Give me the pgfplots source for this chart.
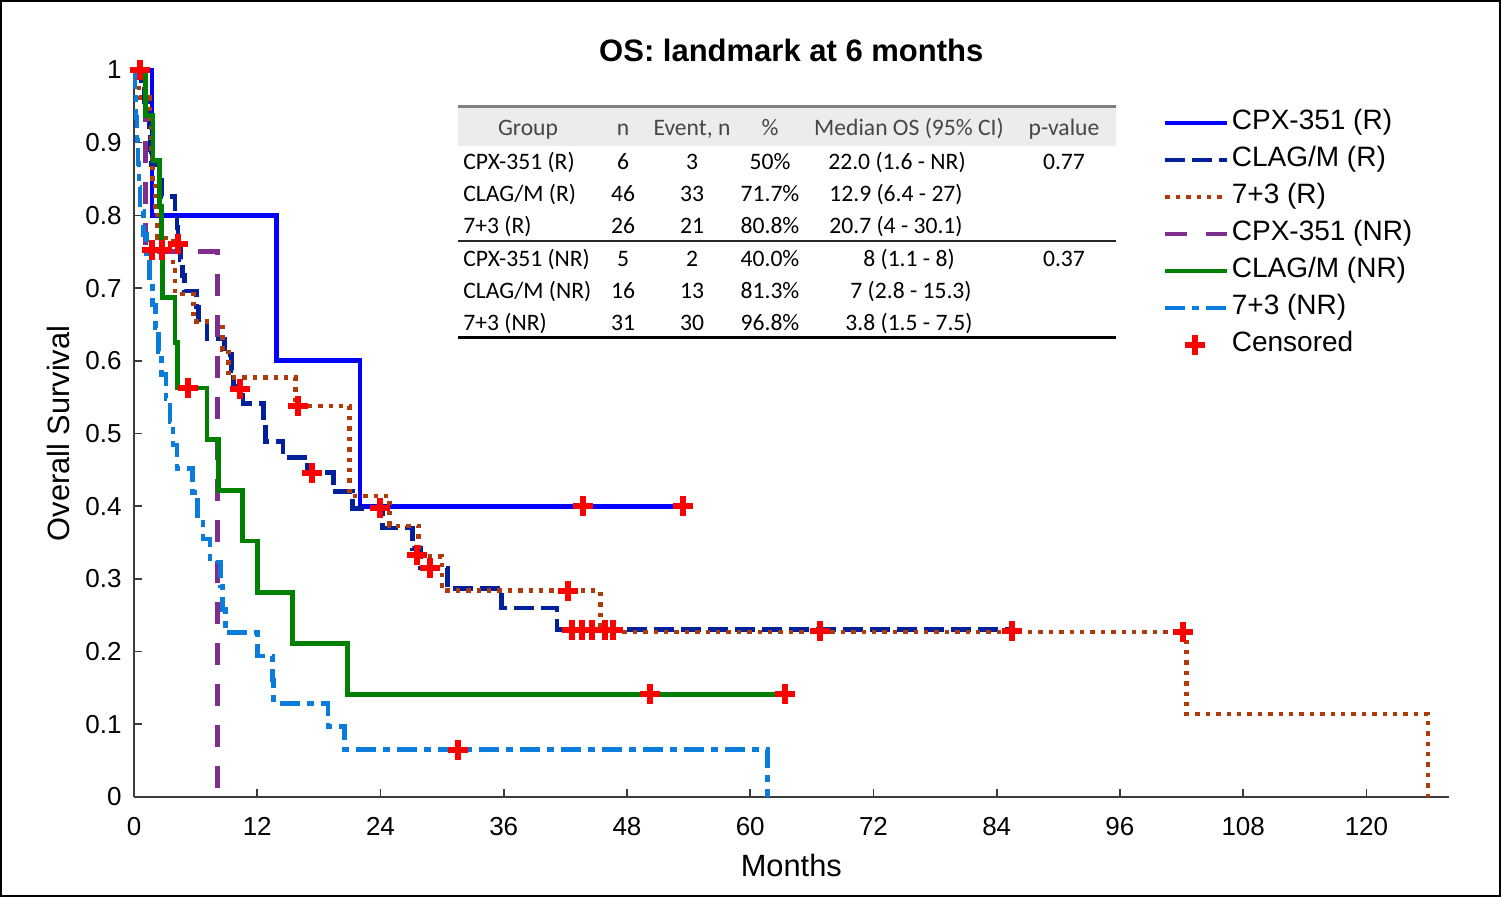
\documentclass[border=0pt]{standalone}
\usepackage{fontspec}
\setmainfont{Liberation Sans}
\newfontfamily\tablefont{Carlito}
\usepackage{pgfplots}
\pgfplotsset{compat=1.18}

\definecolor{cR}{RGB}{0,0,255}
\definecolor{clagR}{RGB}{0,32,156}
\definecolor{sevR}{RGB}{176,58,8}
\definecolor{cNR}{RGB}{126,47,142}
\definecolor{clagNR}{RGB}{0,128,0}
\definecolor{sevNR}{RGB}{10,125,220}
\definecolor{axisgray}{RGB}{60,60,60}
\definecolor{hdrbg}{RGB}{236,236,236}
\definecolor{hdrtxt}{RGB}{70,70,70}

\pgfplotsset{censorlegend/.style={legend image code/.code={\draw[mark repeat=2,mark phase=2,##1] plot coordinates {(0pt,0pt) (15pt,0pt) (30pt,0pt)};}}}

\begin{document}
\begin{tikzpicture}
\path[use as bounding box] (0,0) rectangle (750.5pt,-448.5pt);
\fill[white] (0,0) rectangle (750.5pt,-448.5pt);
\draw[black, line width=1pt] (0.5pt,-0.5pt) rectangle (750pt,-448pt);

\begin{scope}[x=0.5pt,y=-0.5pt]
\fill[hdrbg] (458,108) rectangle (1116,146);
\draw[line width=1.5pt, gray] (458,107) -- (1116,107);
\draw[line width=1pt, black!85] (458,241) -- (1116,241);
\draw[line width=1.5pt, black] (458,338) -- (1116,338);
\tikzset{tb/.style={font=\tablefont\fontsize{11.8}{14}\selectfont, inner sep=0pt, anchor=base}}
\tikzset{tl/.style={tb, anchor=base west}}
% header
\node[tb, text=hdrtxt] at (528,136) {Group};
\node[tb, text=hdrtxt] at (623,136) {n};
\node[tb, text=hdrtxt] at (692,136) {Event, n};
\node[tb, text=hdrtxt] at (770,136) {\%};
\node[tb, text=hdrtxt] at (909,136) {Median OS (95\% CI)};
\node[tb, text=hdrtxt] at (1064,136) {p-value};
% rows
\node[tl] at (463,170) {CPX-351 (R)};
\node[tb] at (623,170) {6};
\node[tb] at (692,170) {3};
\node[tb] at (770,170) {50\%};
\node[tb] at (897,170) {22.0 (1.6 - NR)};
\node[tb] at (1064,170) {0.77};
\node[tl] at (463,202) {CLAG/M (R)};
\node[tb] at (623,202) {46};
\node[tb] at (692,202) {33};
\node[tb] at (770,202) {71.7\%};
\node[tb] at (896,202) {12.9 (6.4 - 27)};
\node[tl] at (463,234) {7+3 (R)};
\node[tb] at (623,234) {26};
\node[tb] at (692,234) {21};
\node[tb] at (770,234) {80.8\%};
\node[tb] at (896,234) {20.7 (4 - 30.1)};
\node[tl] at (463,267) {CPX-351 (NR)};
\node[tb] at (623,267) {5};
\node[tb] at (692,267) {2};
\node[tb] at (770,267) {40.0\%};
\node[tb] at (909,267) {8 (1.1 - 8)};
\node[tb] at (1064,267) {0.37};
\node[tl] at (463,299) {CLAG/M (NR)};
\node[tb] at (623,299) {16};
\node[tb] at (692,299) {13};
\node[tb] at (770,299) {81.3\%};
\node[tb] at (911,299) {7 (2.8 - 15.3)};
\node[tl] at (463,331) {7+3 (NR)};
\node[tb] at (623,331) {31};
\node[tb] at (692,331) {30};
\node[tb] at (770,331) {96.8\%};
\node[tb] at (909,331) {3.8 (1.5 - 7.5)};
\end{scope}

\begin{axis}[
  at={(67pt,-398.5pt)}, anchor=south west,
  scale only axis, width=657.3pt, height=363.5pt,
  xmin=0, xmax=128, ymin=0, ymax=1,
  clip=false,
  axis x line*=bottom, axis y line*=left,
  axis line style={axisgray, line width=0.9pt},
  tick style={axisgray, line width=0.8pt},
  major tick length=4pt, tick align=inside,
  xtick={0,12,24,36,48,60,72,84,96,108,120},
  ytick={0,0.1,0.2,0.3,0.4,0.5,0.6,0.7,0.8,0.9,1},
  /pgf/number format/assume math mode=true,
  yticklabel style={/pgf/number format/fixed, inner sep=0pt, xshift=-6pt},
  xticklabel style={inner sep=0pt, yshift=-9.8pt},
  ticklabel style={font=\fontsize{13}{15}\selectfont, text=black},
  title={OS: landmark at 6 months},
  title style={at={(axis description cs:0.5,1.011)}, anchor=center, yshift=0pt, font=\bfseries\fontsize{15.5}{18}\selectfont},
  xlabel={Months},
  xlabel style={at={(axis description cs:0.5,-0.0949)}, anchor=center, font=\fontsize{15.4}{18}\selectfont},
  ylabel={Overall Survival},
  ylabel style={at={(axis description cs:-0.0578,0.5)}, anchor=center, font=\fontsize{15.4}{18}\selectfont},
  legend style={at={(0.7828,0.945)}, anchor=north west, draw=none, fill=none,
     inner sep=0pt, outer sep=0pt, row sep=5.5pt, column sep=1pt,
     font=\fontsize{14}{16}\selectfont,
     nodes={inner sep=0pt, text height=10pt, text depth=3pt}},
  legend cell align=left,
  legend image code/.code={\draw[#1] (0pt,0pt) -- (31pt,0pt);},
  every axis plot/.append style={line cap=butt, line join=miter},
]
% CPX-351 (R)
\addplot[const plot, cR, line width=2.4pt] coordinates {
(0,1) (1.75,0.8) (13.9,0.6) (22.0,0.4) (53.5,0.4)};
\addlegendentry{CPX-351 (R)}
% CLAG/M (R)
\addplot[const plot, clagR, line width=2.3pt, dash pattern=on 10pt off 3.5pt] coordinates {
(0,1) (0.7,0.978) (1.0,0.957) (1.3,0.935) (1.5,0.913) (1.6,0.891) (1.7,0.870)
(2.5,0.848) (2.7,0.826) (4.0,0.804) (4.2,0.783) (4.3,0.761) (4.5,0.739) (4.7,0.717)
(4.9,0.696) (6.1,0.674) (6.3,0.652) (7.1,0.630) (8.8,0.609) (9.5,0.587) (9.7,0.565)
(10.6,0.541) (12.6,0.515) (12.8,0.489) (14.5,0.467) (16.9,0.446) (19.4,0.420)
(21.3,0.397) (24.2,0.370) (27.1,0.342) (27.9,0.315) (30.5,0.287) (35.8,0.260)
(41.2,0.230) (85.5,0.230)};
\addlegendentry{CLAG/M (R)}
% 7+3 (R)
\addplot[const plot, sevR, line width=2.3pt, dash pattern=on 2.2pt off 3pt] coordinates {
(0,1) (0.5,0.962) (1.5,0.923) (1.7,0.885) (1.8,0.846) (2.1,0.808) (2.3,0.769)
(3.8,0.731) (4.0,0.692) (5.8,0.654) (8.6,0.615) (9.2,0.577) (15.7,0.538)
(21.0,0.414) (24.9,0.373) (27.7,0.331) (30.0,0.284) (45.4,0.227) (102.5,0.114) (126.0,0)};
\addlegendentry{7+3 (R)}
% CPX-351 (NR)
\addplot[const plot, cNR, line width=2.4pt, dash pattern=on 11pt off 9.5pt] coordinates {
(0,1) (1.1,0.75) (8.1,0)};
\addlegendentry{CPX-351 (NR)}
% CLAG/M (NR)
\addplot[const plot, clagNR, line width=2.4pt] coordinates {
(0,1) (1.1,0.9375) (1.85,0.875) (2.5,0.8125) (2.65,0.75) (2.8,0.6875) (4.0,0.625)
(4.2,0.5625) (7.1,0.492) (8.2,0.422) (10.6,0.352) (12.0,0.281) (15.4,0.211)
(20.8,0.141) (63.4,0.141)};
\addlegendentry{CLAG/M (NR)}
% 7+3 (NR)
\addplot[const plot, sevNR, line width=2.3pt, dash pattern=on 10pt off 3.5pt on 3.5pt off 3.5pt] coordinates {
(0,1) (0.1,0.968) (0.2,0.935) (0.3,0.903) (0.4,0.871) (0.5,0.839) (0.6,0.806)
(0.9,0.774) (1.2,0.742) (1.5,0.710) (1.8,0.677) (2.1,0.645) (2.4,0.613) (2.7,0.581)
(3.1,0.548) (3.5,0.516) (3.8,0.484) (4.2,0.452) (5.7,0.419) (6.2,0.387) (6.7,0.355)
(7.4,0.323) (8.4,0.290) (8.6,0.258) (8.9,0.226) (12.0,0.194) (13.5,0.161)
(13.6,0.129) (18.9,0.097) (20.5,0.065) (61.7,0)};
\addlegendentry{7+3 (NR)}
% Censored
\addplot[only marks, red, mark=+, mark size=5pt, mark options={line width=3pt, red}, censorlegend]
 coordinates {
(0.6,1.0) (1.75,0.752) (2.7,0.752) (4.3,0.761) (5.3,0.5625) (10.3,0.561)
(16.0,0.538) (17.3,0.446) (24.0,0.397) (27.6,0.333) (28.8,0.315) (42.3,0.284)
(42.6,0.23) (43.6,0.23) (44.6,0.23) (45.9,0.23) (46.6,0.23) (66.8,0.228)
(85.5,0.228) (102.1,0.227) (43.7,0.4) (53.5,0.4) (50.2,0.141) (63.4,0.141) (31.5,0.065)};
\addlegendentry{Censored}
\end{axis}
\end{tikzpicture}
\end{document}
